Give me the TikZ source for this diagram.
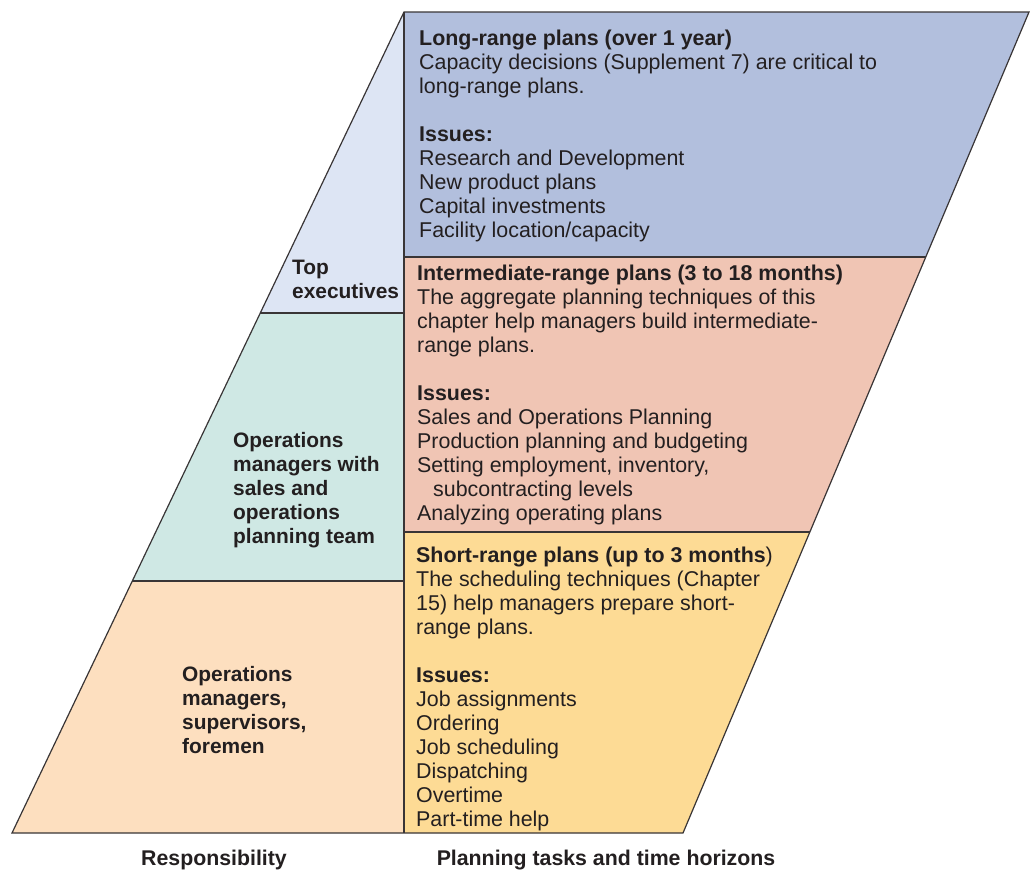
\documentclass[tikz,border=0pt]{standalone}
\usepackage{fontspec}
\setmainfont{Liberation Sans}

\definecolor{topfill}{HTML}{DDE5F4}
\definecolor{longfill}{HTML}{B2BFDD}
\definecolor{midfill}{HTML}{CFE8E4}
\definecolor{interfill}{HTML}{F0C5B4}
\definecolor{lowfill}{HTML}{FDDFBF}
\definecolor{shortfill}{HTML}{FDDB95}
\definecolor{inkgray}{HTML}{231F20}

\begin{document}
\begin{tikzpicture}[
        x=1pt, y=-1pt,
        edge/.style={draw=inkgray!90, line width=1.2pt, line join=miter},
        txt/.style={
            anchor=base west,
            align=left,
            inner sep=0pt,
            text=inkgray,
            font=\fontsize{21.4}{24}\selectfont
        },
        who/.style={txt, font=\fontsize{20.9}{24}\selectfont\bfseries},
        caption/.style={anchor=base, inner sep=0pt, text=inkgray,
            font=\fontsize{21.3}{24}\selectfont\bfseries}
    ]

    \useasboundingbox (0,0) rectangle (1030,870);

    % fills
    \fill[topfill]   (404,12) -- (404,313) -- (260,313) -- cycle;
    \fill[longfill]  (404,12) -- (1029,12) -- (926,257) -- (404,257) -- cycle;
    \fill[midfill]   (260,313) -- (404,313) -- (404,581) -- (132,581) -- cycle;
    \fill[interfill] (404,257) -- (926,257) -- (810,532) -- (404,532) -- cycle;
    \fill[lowfill]   (132,581) -- (404,581) -- (404,833) -- (12,833) -- cycle;
    \fill[shortfill] (404,532) -- (810,532) -- (683,833) -- (404,833) -- cycle;

    % outline and dividers
    \draw[edge] (404,12) -- (1029,12) -- (683,833) -- (12,833) -- cycle;
    \draw[edge] (404,12) -- (404,833);
    \draw[edge] (260,313) -- (404,313);
    \draw[edge] (132,581) -- (404,581);
    \draw[edge] (404,257) -- (926,257);
    \draw[edge] (404,532) -- (810,532);

    % responsibility (placed by the baseline of the last line)
    \node[who] (toptxt)  at (292,298) {Top\\executives};
    \node[who] (opsteam) at (233,543) {Operations\\managers with\\sales and\\operations\\planning team};
    \node[who] (opsfore) at (182,753) {Operations\\managers,\\supervisors,\\foremen};

    % planning tasks
    \node[txt] (longtxt) at (419,237) {\textbf{Long-range plans (over 1 year)}\\
        Capacity decisions (Supplement 7) are critical to\\
        long-range plans.\\[24pt]
        \textbf{Issues:}\\
        Research and Development\\
        New product plans\\
        Capital investments\\
        Facility location/capacity};
    \node[txt] (intertxt) at (417,520) {\textbf{Intermediate-range plans (3 to 18 months)}\\
        The aggregate planning techniques of this\\
        chapter help managers build intermediate-\\
        range plans.\\[24pt]
        \textbf{Issues:}\\
        Sales and Operations Planning\\
        Production planning and budgeting\\
        Setting employment, inventory,\\
        \hspace*{16pt}subcontracting levels\\
        Analyzing operating plans};
    \node[txt] (shorttxt) at (416,826) {\textbf{Short-range plans (up to 3 months})\\
        The scheduling techniques (Chapter\\
        15) help managers prepare short-\\
        range plans.\\[24pt]
        \textbf{Issues:}\\
        Job assignments\\
        Ordering\\
        Job scheduling\\
        Dispatching\\
        Overtime\\
        Part-time help};

    % captions
    \node[caption] (resp)  at (214,865) {Responsibility};
    \node[caption] (tasks) at (606,865) {Planning tasks and time horizons};

\end{tikzpicture}
\end{document}
